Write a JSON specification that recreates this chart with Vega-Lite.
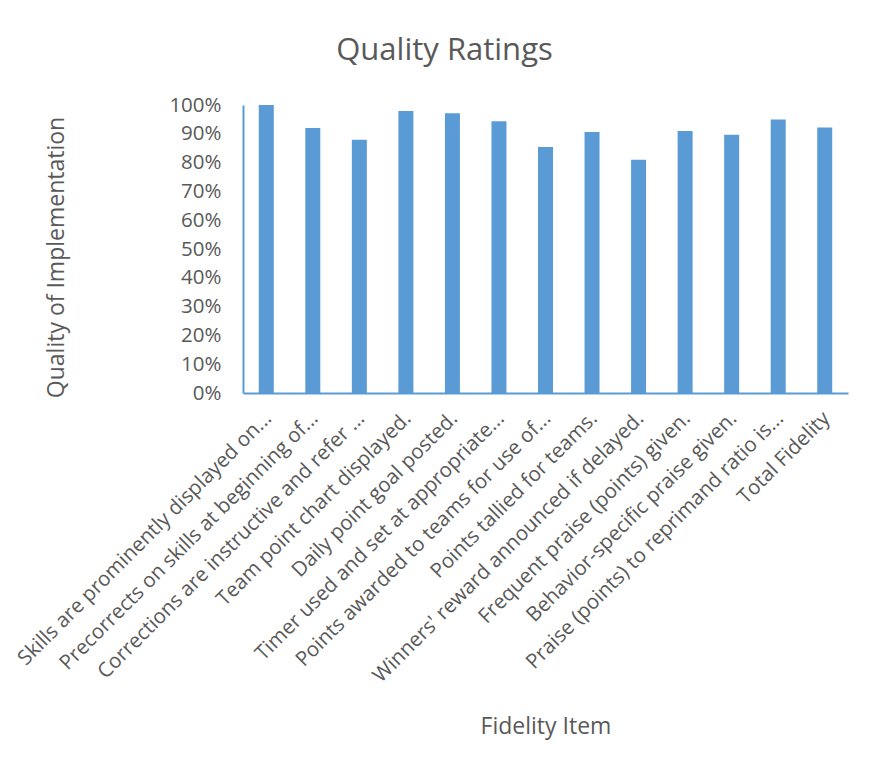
{
  "$schema": "https://vega.github.io/schema/vega-lite/v6.json",
  "autosize": "none",
  "width": 605,
  "height": 288,
  "padding": {"left": 243, "top": 105, "right": 27, "bottom": 389},
  "background": "#ffffff",
  "title": {
    "text": "Quality Ratings",
    "font": "Open Sans",
    "fontSize": 31,
    "fontWeight": "normal",
    "color": "#595959",
    "anchor": "middle",
    "dx": -101,
    "offset": 28
  },
  "data": {
    "values": [
      {"item": "Skills are prominently displayed on...", "quality": 1.0},
      {"item": "Precorrects on skills at beginning of...", "quality": 0.92},
      {"item": "Corrections are instructive and refer ...", "quality": 0.879},
      {"item": "Team point chart displayed.", "quality": 0.979},
      {"item": "Daily point goal posted.", "quality": 0.971},
      {"item": "Timer used and set at appropriate...", "quality": 0.944},
      {"item": "Points awarded to teams for use of...", "quality": 0.854},
      {"item": "Points tallied for teams.", "quality": 0.906},
      {"item": "Winners' reward announced if delayed.", "quality": 0.81},
      {"item": "Frequent praise (points) given.", "quality": 0.91},
      {"item": "Behavior-specific praise given.", "quality": 0.897},
      {"item": "Praise (points) to reprimand ratio is...", "quality": 0.95},
      {"item": "Total Fidelity", "quality": 0.922}
    ]
  },
  "mark": {"type": "bar", "color": "#5B9BD5", "size": 15},
  "encoding": {
    "x": {
      "field": "item",
      "type": "nominal",
      "sort": null,
      "scale": {"paddingInner": 0.2, "paddingOuter": 0.1},
      "axis": {
        "title": "Fidelity Item",
        "titleFont": "Open Sans",
        "titleFontSize": 23,
        "titleFontWeight": "normal",
        "titleColor": "#595959",
        "titleY": 322,
        "labelAngle": -45,
        "labelAlign": "right",
        "labelBaseline": "middle",
        "labelFont": "Open Sans",
        "labelFontSize": 20.5,
        "labelColor": "#595959",
        "labelPadding": 22,
        "labelOffset": 2,
        "labelLimit": 0,
        "ticks": false,
        "domainColor": "#5B9BD5",
        "domainWidth": 2
      }
    },
    "y": {
      "field": "quality",
      "type": "quantitative",
      "scale": {"domain": [0, 1], "nice": false},
      "axis": {
        "title": "Quality of Implementation",
        "titleFont": "Open Sans",
        "titleFontSize": 23,
        "titleFontWeight": "normal",
        "titleColor": "#595959",
        "titleX": -175,
        "titleY": 152,
        "format": ".0%",
        "values": [0, 0.1, 0.2, 0.3, 0.4, 0.5, 0.6, 0.7, 0.8, 0.9, 1.0],
        "labelFont": "Open Sans",
        "labelFontSize": 20.5,
        "labelColor": "#595959",
        "labelPadding": 22,
        "ticks": false,
        "grid": false,
        "domainColor": "#5B9BD5",
        "domainWidth": 2
      }
    }
  },
  "config": {
    "view": {"stroke": null}
  }
}
